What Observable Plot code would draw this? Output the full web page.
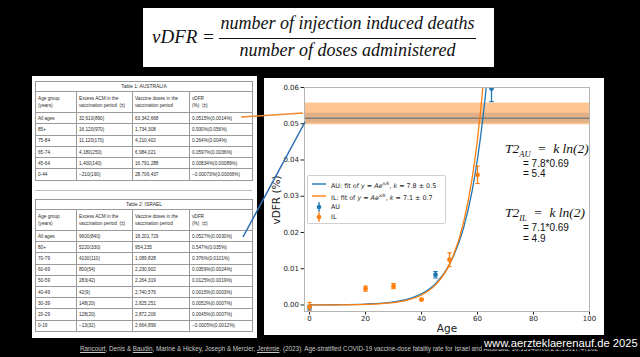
<!DOCTYPE html>
<html><head><meta charset="utf-8">
<script src="https://cdn.jsdelivr.net/npm/d3@7"></script>
<script src="https://cdn.jsdelivr.net/npm/@observablehq/plot@0.6"></script>
<style>
html,body{margin:0;padding:0;background:#000;width:640px;height:357px;overflow:hidden;font-family:"Liberation Sans",Arial,sans-serif}
#root{position:relative;width:640px;height:357px;background:#000}
.abs{position:absolute}
#formula{left:143px;top:8px;width:351px;height:59px;background:#fff;font-family:"Liberation Serif",serif;font-style:italic;color:#111}
.tbl{position:absolute;border-collapse:collapse;font-size:4.7px;color:#2a2a2a;background:#fff;table-layout:fixed}
.tbl td{border:0.6px solid #9a9a9a;padding:0 2px;vertical-align:middle;white-space:nowrap;overflow:hidden}
.tbl td.ttl{text-align:center;font-size:4.9px}
#legend{left:307px;top:175px;width:137px;height:47px;background:rgba(255,255,255,0.85);border:1px solid #d0d0d0;border-radius:2px;font-size:6.4px;color:#222;font-family:"DejaVu Sans",sans-serif}
.lrow{position:absolute;left:0;height:10px;width:137px}
.lrow span.t{position:absolute;left:23px;top:0;line-height:10px;white-space:nowrap}
.t2{font-family:"Liberation Serif",serif;font-style:italic;font-size:13.5px;color:#111;white-space:nowrap}
.eq{font-family:"Liberation Sans",sans-serif;font-size:10px;color:#111;white-space:nowrap}
</style></head><body><div id="root">
<div id="formula" class="abs">
  <div class="abs" style="left:9px;top:18px;font-size:19px;line-height:22px">vDFR =</div>
  <div class="abs" style="left:76px;top:5px;width:257px;text-align:center;font-size:18px;line-height:21px;white-space:nowrap">number of injection induced deaths</div>
  <div class="abs" style="left:76px;top:30px;width:257px;height:1.4px;background:#111"></div>
  <div class="abs" style="left:76px;top:32px;width:257px;text-align:center;font-size:18px;line-height:21px;white-space:nowrap">number of doses administered</div>
</div>
<div class="abs" style="left:32px;top:76px;width:225px;height:262px;background:#fff"></div>
<div class="abs" style="left:35px;top:190px;width:217px;height:0.8px;background:#bbb"></div>
<div id="tables"></div>
<div class="abs" style="left:264px;top:78px;width:340px;height:257px;background:#fff"></div>
<div id="chart" class="abs" style="left:264px;top:78px"></div>
<div class="abs" style="left:0;top:0;width:640px;height:357px;pointer-events:none">
  <div class="abs" style="left:447px;top:328px;font-size:10.5px;color:#222;font-family:'DejaVu Sans',sans-serif;transform:translate(-50%,-50%);white-space:nowrap">Age</div>
  <div class="abs" style="left:276px;top:200px;font-size:10.5px;color:#222;font-family:'DejaVu Sans',sans-serif;transform:translate(-50%,-50%) rotate(-90deg);white-space:nowrap">vDFR (%)</div>
</div>
<div id="legend" class="abs"></div>
<div class="abs t2" style="left:505px;top:141px">T2<sub style="font-size:8.5px">AU</sub> &nbsp;= &nbsp;k ln(2)</div>
<div class="abs eq" style="left:523px;top:158px">= 7.8*0.69</div>
<div class="abs eq" style="left:523px;top:168px">= 5.4</div>
<div class="abs t2" style="left:505px;top:205px">T2<sub style="font-size:8.5px">IL</sub> &nbsp;= &nbsp;k ln(2)</div>
<div class="abs eq" style="left:523px;top:222px">= 7.1*0.69</div>
<div class="abs eq" style="left:523px;top:233px">= 4.9</div>
<svg class="abs" width="640" height="357" style="left:0;top:0;pointer-events:none">
  <line x1="241" y1="117" x2="303" y2="113" stroke="#ee8a2c" stroke-width="1.5"/>
  <line x1="243" y1="237" x2="305" y2="122" stroke="#2a6db0" stroke-width="1.5"/>
</svg>
<div class="abs" style="left:80px;top:345px;font-size:6.3px;color:#c8c8c8;white-space:nowrap;font-family:'Liberation Sans',sans-serif"><u>Rancourt</u>, Denis &amp; <u>Baudin</u>, Marine &amp; Hickey, Joseph &amp; Mercier, <u>Jérémie</u>. (2023). Age-stratified COVID-19 vaccine-dose fatality rate for Israel and Australia. 10.13140/RG.2.2.15017.47202</div>
<div class="abs" style="left:482px;top:337px;font-size:11.2px;color:#fff;white-space:nowrap;font-family:'Liberation Sans',sans-serif;background:#000;padding:0 2px">www.aerzteklaerenauf.de 2025</div>
</div>
<script>
// ---- chart data ----
const auAge  = [0, 45, 65, 75, 85];
const auVdfr = [-0.00073, 0.00834, 0.0597, 0.264, 0.930];
const auErr  = [0.00066, 0.00089, 0.0036, 0.004, 0.056];
const ilAge  = [0, 20, 30, 40, 50, 60, 70, 80];
const ilVdfr = [-0.0005, 0.0045, 0.0052, 0.0015, 0.0125, 0.0359, 0.376, 0.547];
const ilErr  = [0.0012, 0.0007, 0.0007, 0.0003, 0.0019, 0.0024, 0.0101, 0.035];
const auAll = 0.0515, auAllErr = 0.0014;
const ilAll = 0.0527, ilAllErr = 0.0030;
// fit curves, values
const fitAge = [0, 10, 20, 30, 35, 40, 45, 50, 55, 58, 60, 62, 64, 66];
const auFit  = [0.000018, 0.000066, 0.00024, 0.00086, 0.00164, 0.0031, 0.0059, 0.0112, 0.0212, 0.0312, 0.0403, 0.0521, 0.0673, 0.087];
const ilFit  = [0.00001, 0.00004, 0.000164, 0.00067, 0.00136, 0.00274, 0.00555, 0.0112, 0.0227, 0.0346, 0.0458, 0.0608, 0.0805, 0.1065];
const xTicks = [0, 20, 40, 60, 80, 100];
const yTicks = [0, 0.01, 0.02, 0.03, 0.04, 0.05, 0.06];
const legendLabels = ["AU: fit of", "IL: fit of", "AU", "IL"];
const legendK = ["7.8 ± 0.5", "7.1 ± 0.7"];

// ---- table data ----
const tableHeads = ["Age group<br>(years)", "Excess ACM in the<br>vaccination period &nbsp;(±)", "Vaccine doses in the<br>vaccination period", "vDFR<br>(%) &nbsp;(±)"];
const auGroups = ["All ages", "85+", "75-84", "65-74", "45-64", "0-44"];
const auExcess = ["32,610(890)", "16,120(970)", "11,120(170)", "4,180(250)", "1,400(140)", "−210(190)"];
const auDoses  = ["63,342,668", "1,734,308", "4,210,402", "6,984,021", "16,791,288", "28,706,437"];
const auText   = ["0.0515%(0.0014%)", "0.930%(0.056%)", "0.264%(0.004%)", "0.0597%(0.0036%)", "0.00834%(0.00089%)", "−0.00073%(0.00066%)"];
const ilGroups = ["All ages", "80+", "70-79", "60-69", "50-59", "40-49", "30-39", "20-29", "0-19"];
const ilExcess = ["9600(840)", "5220(330)", "4100(110)", "800(54)", "283(42)", "42(9)", "148(20)", "128(20)", "−13(32)"];
const ilDoses  = ["18,201,729", "954,235", "1,089,828", "2,230,902", "2,264,319", "2,740,576", "2,825,251", "2,872,206", "2,664,899"];
const ilText   = ["0.0527%(0.0030%)", "0.547%(0.035%)", "0.376%(0.0101%)", "0.0359%(0.0024%)", "0.0125%(0.0019%)", "0.0015%(0.0003%)", "0.0052%(0.0007%)", "0.0045%(0.0007%)", "−0.0005%(0.0012%)"];

function makeTable(title, groups, excess, doses, vd, top, rowH) {
  const t = document.createElement("table");
  t.className = "tbl";
  t.style.left = "35px"; t.style.top = top + "px"; t.style.width = "217px";
  let h = `<colgroup><col style="width:41px"><col style="width:56px"><col style="width:57px"><col style="width:63px"></colgroup>`;
  h += `<tr style="height:10px"><td class="ttl" colspan="4">${title}</td></tr>`;
  h += `<tr style="height:21px">` + tableHeads.map(s => `<td style="line-height:7px">${s}</td>`).join("") + `</tr>`;
  groups.forEach((g, i) => {
    h += `<tr style="height:${rowH}px"><td>${g}</td><td>${excess[i]}</td><td>${doses[i]}</td><td>${vd[i]}</td></tr>`;
  });
  t.innerHTML = h;
  document.getElementById("tables").appendChild(t);
}
makeTable("Table 1: AUSTRALIA", auGroups, auExcess, auDoses, auText, 81, 11.3);
makeTable("Table 2: ISRAEL", ilGroups, ilExcess, ilDoses, ilText, 199, 11.2);

// ---- plot ----
const blue = "#1f77b4", orange = "#ff7f0e";
const au = auAge.map((a, i) => ({age: a, v: auVdfr[i], lo: auVdfr[i] - auErr[i], hi: auVdfr[i] + auErr[i]}));
const il = ilAge.map((a, i) => ({age: a, v: ilVdfr[i], lo: ilVdfr[i] - ilErr[i], hi: ilVdfr[i] + ilErr[i]}));
const auF = fitAge.map((a, i) => ({age: a, v: auFit[i]}));
const ilF = fitAge.map((a, i) => ({age: a, v: ilFit[i]}));
const bands = [{lo: ilAll - ilAllErr, hi: ilAll + ilAllErr, c: orange, o: 0.45}, {lo: auAll - auAllErr, hi: auAll + auAllErr, c: "#7a6a60", o: 0.22}];

function errMarks(data, color) {
  return [
    Plot.ruleX(data, {x: "age", y1: "lo", y2: "hi", stroke: color, strokeWidth: 1.3, clip: true}),
    Plot.link(data, {x1: d => d.age - 0.8, x2: d => d.age + 0.8, y1: "lo", y2: "lo", stroke: color, strokeWidth: 1.1, clip: true}),
    Plot.link(data, {x1: d => d.age - 0.8, x2: d => d.age + 0.8, y1: "hi", y2: "hi", stroke: color, strokeWidth: 1.1, clip: true}),
    Plot.dot(data, {x: "age", y: "v", r: 2.4, fill: color, stroke: "none", clip: true})
  ];
}

const chart = Plot.plot({
  width: 340, height: 257,
  marginLeft: 40, marginRight: 15, marginTop: 9, marginBottom: 24,
  style: {background: "transparent", fontFamily: "DejaVu Sans, sans-serif", fontSize: "7px", color: "#222"},
  x: {domain: [-1.8, 100], ticks: xTicks, tickSize: 3.5, tickPadding: 1.5, label: null},
  y: {domain: [-0.0018, 0.06], ticks: yTicks, tickFormat: d3.format(".2f"), tickSize: 3.5, tickPadding: 2, label: null},
  marks: [
    Plot.rect(bands, {y1: "lo", y2: "hi", fill: "c", fillOpacity: "o", clip: true}),
    Plot.ruleY([auAll], {stroke: "#7f7f7f", strokeWidth: 1.5}),
    Plot.line(auF, {x: "age", y: "v", stroke: blue, strokeWidth: 1.3, curve: "monotone-x", clip: true}),
    Plot.line(ilF, {x: "age", y: "v", stroke: orange, strokeWidth: 1.3, curve: "monotone-x", clip: true}),
    ...errMarks(au, blue),
    ...errMarks(il, orange),
    Plot.frame({stroke: "#b5b5b5"})
  ]
});
document.getElementById("chart").appendChild(chart);

// ---- legend ----
const lg = document.getElementById("legend");
const rowTops = [3, 14.5, 25.5, 36];
legendLabels.forEach((lab, i) => {
  const r = document.createElement("div");
  r.className = "lrow"; r.style.top = rowTops[i] + "px";
  const col = i % 2 === 0 ? blue : orange;
  let handle;
  if (i < 2) {
    handle = `<svg width="20" height="10" style="position:absolute;left:2px;top:0"><line x1="2" y1="5" x2="16" y2="5" stroke="${col}" stroke-width="1.4"/></svg>`;
    r.innerHTML = handle + `<span class="t">${lab} <i>y</i> = <i>Ae</i><sup style="font-size:4.5px"><i>x/k</i></sup>, <i>k</i> = ${legendK[i]}</span>`;
  } else {
    handle = `<svg width="20" height="10" style="position:absolute;left:2px;top:0"><line x1="9" y1="1" x2="9" y2="9" stroke="${col}" stroke-width="1.2"/><line x1="8" y1="1" x2="10" y2="1" stroke="${col}"/><line x1="8" y1="9" x2="10" y2="9" stroke="${col}"/><circle cx="9" cy="5" r="2.3" fill="${col}"/></svg>`;
    r.innerHTML = handle + `<span class="t">${lab}</span>`;
  }
  lg.appendChild(r);
});
</script>
</body></html>
